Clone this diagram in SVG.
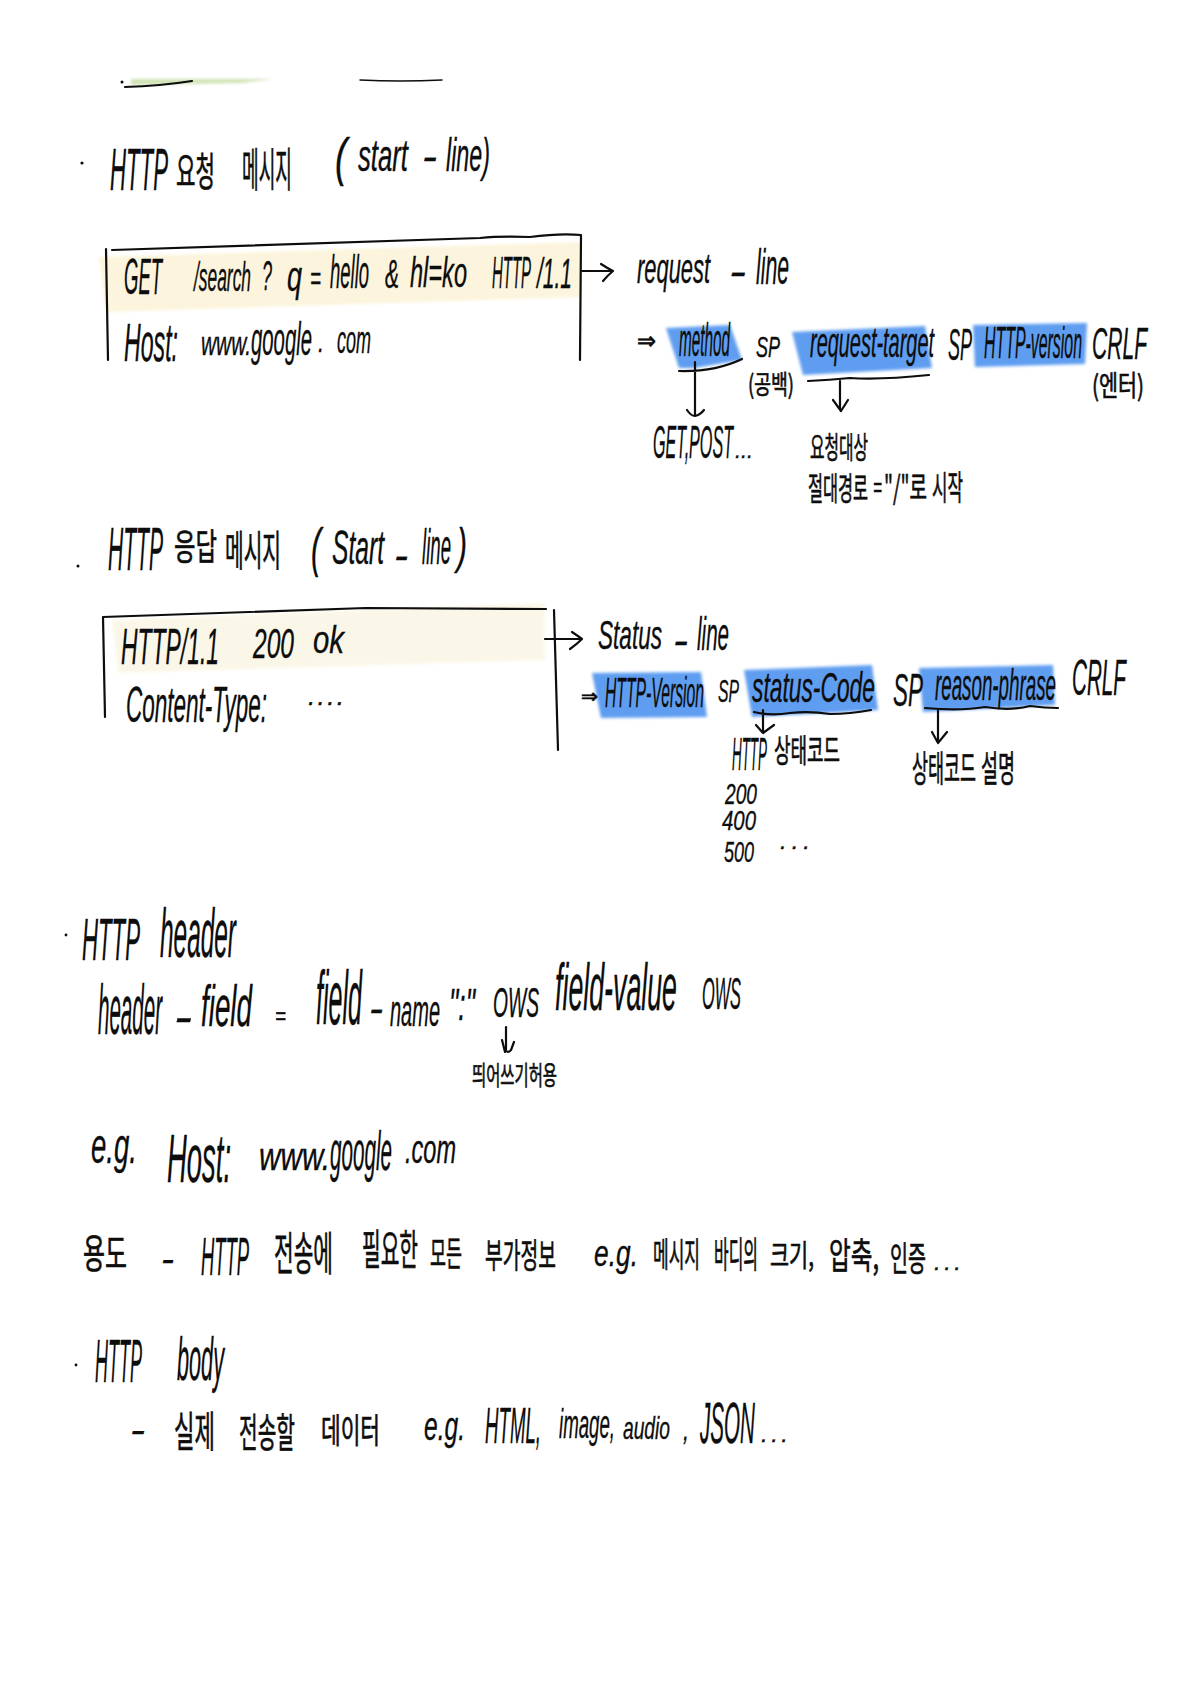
<svg xmlns="http://www.w3.org/2000/svg" width="1192" height="1684" viewBox="0 0 1192 1684">
<style>
text{font-family:"Liberation Sans","Noto Sans CJK KR",sans-serif;fill:#0d0d0d;font-style:italic;stroke:#0d0d0d;stroke-width:.35px}
.k{font-family:"Noto Sans CJK KR","Liberation Sans",sans-serif;font-style:normal;stroke-width:.7px}
.ink{fill:none;stroke:#0d0d0d;stroke-width:2.2;stroke-linecap:round;stroke-linejoin:round}
.blue{fill:#5f9df0;filter:url(#soft)}
.yel{fill:#fcf4dc;filter:url(#soft)}
.yel2{fill:#fbf7e8;filter:url(#soft)}
</style>
<defs><filter id="soft" x="-5%" y="-20%" width="110%" height="140%"><feGaussianBlur stdDeviation="1.5"/></filter></defs>
<rect width="1192" height="1684" fill="#fff"/>

<g id="top-remnant">
<path d="M131 79L274 79L240 83L131 85Z" fill="#cfe3b4" filter="url(#soft)"/>
<circle cx="122" cy="82" r="1.5" fill="#0d0d0d"/>
<path class="ink" d="M125 87Q160 86 192 81"/>
<path class="ink" d="M360 80Q400 82 442 80" style="stroke-width:1.5"/>
</g>

<g id="highlights">
<path class="yel" d="M99 257L580 242L580 297L106 312Z"/>
<path class="yel2" d="M112 620L545 603L545 660L118 673Z"/>
<path class="blue" d="M666 328L730 325L742 360L694 368L679 368Z"/>
<path class="blue" d="M792 332L925 326L932 368L803 375Z"/>
<path class="blue" d="M973 325L1087 323L1085 364L975 367Z"/>
<path class="blue" d="M592 673L701 672L707 717L601 718Z"/>
<path class="blue" d="M744 670L872 665L878 710L752 717Z"/>
<path class="blue" d="M919 668L1053 665L1055 705L923 712Z"/>
</g>

<g id="heading-request">
<circle cx="82" cy="163" r="1.6" fill="#0d0d0d"/>
<text x="110" y="190" font-size="60" textLength="58" lengthAdjust="spacingAndGlyphs">HTTP</text>
<text class="k" x="176" y="186" font-size="40" textLength="39" lengthAdjust="spacingAndGlyphs">요청</text>
<text class="k" x="242" y="186" font-size="46" textLength="50" lengthAdjust="spacingAndGlyphs">메시지</text>
<text x="335" y="175" font-size="52" textLength="12" lengthAdjust="spacingAndGlyphs">(</text>
<text x="358" y="171" font-size="44" textLength="50" lengthAdjust="spacingAndGlyphs">start</text>
<text x="422" y="170" font-size="40" textLength="15" lengthAdjust="spacingAndGlyphs">-</text>
<text x="446" y="171" font-size="46" textLength="44" lengthAdjust="spacingAndGlyphs">line)</text>
</g>

<g id="request-box">
<path class="ink" d="M106 249L108 360M112 250Q340 242 480 238Q500 236 530 237Q560 233 581 235L580 360"/>
<text x="124" y="294" font-size="50" textLength="38" lengthAdjust="spacingAndGlyphs">GET</text>
<text x="194" y="291" font-size="40" textLength="57" lengthAdjust="spacingAndGlyphs">/search</text>
<text x="262" y="290" font-size="42" textLength="10" lengthAdjust="spacingAndGlyphs">?</text>
<text x="287" y="291" font-size="42" textLength="15" lengthAdjust="spacingAndGlyphs">q</text>
<text x="310" y="290" font-size="34" textLength="11" lengthAdjust="spacingAndGlyphs">=</text>
<text x="330" y="288" font-size="46" textLength="39" lengthAdjust="spacingAndGlyphs">hello</text>
<text x="385" y="288" font-size="40" textLength="14" lengthAdjust="spacingAndGlyphs">&amp;</text>
<text x="410" y="287" font-size="42" textLength="57" lengthAdjust="spacingAndGlyphs">hl=ko</text>
<text x="492" y="288" font-size="44" textLength="39" lengthAdjust="spacingAndGlyphs">HTTP</text>
<text x="537" y="288" font-size="42" textLength="35" lengthAdjust="spacingAndGlyphs">/1.1</text>
<text x="124" y="361" font-size="54" textLength="54" lengthAdjust="spacingAndGlyphs">Host:</text>
<text x="201" y="355" font-size="34" textLength="50" lengthAdjust="spacingAndGlyphs">www.</text>
<text x="251" y="355" font-size="46" textLength="61" lengthAdjust="spacingAndGlyphs">google</text>
<text x="318" y="352" font-size="30" textLength="6" lengthAdjust="spacingAndGlyphs">.</text>
<text x="337" y="353" font-size="38" textLength="34" lengthAdjust="spacingAndGlyphs">com</text>
</g>

<g id="request-line">
<text x="637" y="283" font-size="42" textLength="73" lengthAdjust="spacingAndGlyphs">request</text>
<text x="729" y="285" font-size="40" textLength="17" lengthAdjust="spacingAndGlyphs">-</text>
<text x="756" y="284" font-size="50" textLength="33" lengthAdjust="spacingAndGlyphs">line</text>
<text class="k" x="637" y="349" font-size="24" textLength="19" lengthAdjust="spacingAndGlyphs" style="font-family:'DejaVu Sans',sans-serif">⇒</text>
<text x="679" y="356" font-size="46" textLength="51" lengthAdjust="spacingAndGlyphs">method</text>
<text x="756" y="357" font-size="30" textLength="24" lengthAdjust="spacingAndGlyphs">SP</text>
<text class="k" x="748" y="394" font-size="26" textLength="46" lengthAdjust="spacingAndGlyphs">(공백)</text>
<text x="810" y="357" font-size="42" textLength="124" lengthAdjust="spacingAndGlyphs">request-target</text>
<text x="948" y="360" font-size="44" textLength="24" lengthAdjust="spacingAndGlyphs">SP</text>
<text x="984" y="358" font-size="44" textLength="98" lengthAdjust="spacingAndGlyphs">HTTP-version</text>
<text x="1092" y="359" font-size="44" textLength="55" lengthAdjust="spacingAndGlyphs">CRLF</text>
<text class="k" x="1092" y="396" font-size="28" textLength="52" lengthAdjust="spacingAndGlyphs">(엔터)</text>
<text x="653" y="458" font-size="46" textLength="80" lengthAdjust="spacingAndGlyphs">GET,POST</text>
<text x="735" y="458" font-size="24" textLength="18" lengthAdjust="spacingAndGlyphs">...</text>
<text class="k" x="810" y="458" font-size="30" textLength="58" lengthAdjust="spacingAndGlyphs">요청대상</text>
<text class="k" x="808" y="500" font-size="32" textLength="60" lengthAdjust="spacingAndGlyphs">절대경로</text>
<text x="873" y="497" font-size="28" textLength="9" lengthAdjust="spacingAndGlyphs">=</text>
<text class="k" x="884" y="499" font-size="32" textLength="43" lengthAdjust="spacingAndGlyphs">"/"로</text>
<text class="k" x="932" y="500" font-size="34" textLength="31" lengthAdjust="spacingAndGlyphs">시작</text>
</g>

<g id="heading-response">
<circle cx="78" cy="566" r="1.5" fill="#0d0d0d"/>
<text x="108" y="570" font-size="62" textLength="55" lengthAdjust="spacingAndGlyphs">HTTP</text>
<text class="k" x="174" y="560" font-size="36" textLength="43" lengthAdjust="spacingAndGlyphs">응답</text>
<text class="k" x="225" y="566" font-size="42" textLength="56" lengthAdjust="spacingAndGlyphs">메시지</text>
<text x="311" y="566" font-size="54" textLength="10" lengthAdjust="spacingAndGlyphs">(</text>
<text x="332" y="564" font-size="48" textLength="52" lengthAdjust="spacingAndGlyphs">Start</text>
<text x="394" y="569" font-size="40" textLength="14" lengthAdjust="spacingAndGlyphs">-</text>
<text x="422" y="564" font-size="50" textLength="29" lengthAdjust="spacingAndGlyphs">line</text>
<text x="457" y="563" font-size="50" textLength="10" lengthAdjust="spacingAndGlyphs">)</text>
</g>

<g id="response-box">
<path class="ink" d="M105 717L103 617Q240 612 366 608L546 609M554 610L558 750"/>
<text x="121" y="664" font-size="50" textLength="98" lengthAdjust="spacingAndGlyphs">HTTP/1.1</text>
<text x="253" y="658" font-size="42" textLength="41" lengthAdjust="spacingAndGlyphs">200</text>
<text x="313" y="653" font-size="38" textLength="31" lengthAdjust="spacingAndGlyphs">ok</text>
<text x="126" y="722" font-size="50" textLength="141" lengthAdjust="spacingAndGlyphs">Content-Type:</text>
<text x="308" y="705" font-size="26" textLength="36" lengthAdjust="spacing">....</text>
</g>

<g id="status-line">
<text x="598" y="649" font-size="40" textLength="64" lengthAdjust="spacingAndGlyphs">Status</text>
<text x="673" y="654" font-size="40" textLength="15" lengthAdjust="spacingAndGlyphs">-</text>
<text x="697" y="650" font-size="46" textLength="32" lengthAdjust="spacingAndGlyphs">line</text>
<text class="k" x="581" y="703" font-size="20" textLength="17" lengthAdjust="spacingAndGlyphs" style="font-family:'DejaVu Sans',sans-serif">⇒</text>
<text x="605" y="707" font-size="42" textLength="99" lengthAdjust="spacingAndGlyphs">HTTP-Version</text>
<text x="718" y="702" font-size="32" textLength="21" lengthAdjust="spacingAndGlyphs">SP</text>
<text x="752" y="702" font-size="42" textLength="123" lengthAdjust="spacingAndGlyphs">status-Code</text>
<text x="893" y="706" font-size="46" textLength="30" lengthAdjust="spacingAndGlyphs">SP</text>
<text x="935" y="700" font-size="44" textLength="121" lengthAdjust="spacingAndGlyphs">reason-phrase</text>
<text x="1072" y="695" font-size="50" textLength="54" lengthAdjust="spacingAndGlyphs">CRLF</text>
<text x="732" y="770" font-size="46" textLength="35" lengthAdjust="spacingAndGlyphs">HTTP</text>
<text class="k" x="774" y="762" font-size="32" textLength="66" lengthAdjust="spacingAndGlyphs">상태코드</text>
<text x="725" y="804" font-size="30" textLength="32" lengthAdjust="spacingAndGlyphs">200</text>
<text x="722" y="830" font-size="28" textLength="34" lengthAdjust="spacingAndGlyphs">400</text>
<text x="724" y="862" font-size="30" textLength="30" lengthAdjust="spacingAndGlyphs">500</text>
<text x="780" y="849" font-size="24" textLength="30" lengthAdjust="spacing">...</text>
<text class="k" x="912" y="782" font-size="36" textLength="64" lengthAdjust="spacingAndGlyphs">상태코드</text>
<text class="k" x="981" y="782" font-size="36" textLength="34" lengthAdjust="spacingAndGlyphs">설명</text>
</g>

<g id="connectors">
<g class="ink">
<path d="M582 271L612 271M601 264Q607 268 613 271Q608 275 603 281"/>
<path d="M679 371Q715 372 742 359M695 362L695 415M687 410Q691 416 695 416Q700 415 704 410"/>
<path d="M808 381Q830 380 850 378Q880 380 929 375M840 381L840 410M833 400L841 411L848 400"/>
<path d="M545 639L581 639M572 632Q578 636 582 639Q577 644 570 649"/>
<path d="M754 712Q770 716 790 713Q810 711 830 714Q850 714 871 710M763 710L763 733M756 725L763 733L774 725"/>
<path d="M925 708Q960 711 985 707Q1010 711 1030 706Q1045 708 1058 708M938 710L938 743M932 732L938 743L947 732"/>
<path d="M506 1027L506 1050Q507 1054 511 1050L514 1042M502 1040L505 1052"/>
</g>
</g>

<g id="header-section">
<circle cx="66" cy="935" r="1.4" fill="#0d0d0d"/>
<text x="82" y="960" font-size="60" textLength="58" lengthAdjust="spacingAndGlyphs">HTTP</text>
<text x="160" y="957" font-size="68" textLength="76" lengthAdjust="spacingAndGlyphs">header</text>
<text x="98" y="1034" font-size="70" textLength="64" lengthAdjust="spacingAndGlyphs">header</text>
<text x="174" y="1032" font-size="44" textLength="18" lengthAdjust="spacingAndGlyphs">-</text>
<text x="201" y="1026" font-size="58" textLength="51" lengthAdjust="spacingAndGlyphs">field</text>
<text x="275" y="1024" font-size="24" textLength="11" lengthAdjust="spacingAndGlyphs">=</text>
<text x="316" y="1024" font-size="76" textLength="46" lengthAdjust="spacingAndGlyphs">field</text>
<text x="369" y="1022" font-size="40" textLength="14" lengthAdjust="spacingAndGlyphs">-</text>
<text x="390" y="1026" font-size="44" textLength="50" lengthAdjust="spacingAndGlyphs">name</text>
<text x="449" y="1020" font-size="44" textLength="26" lengthAdjust="spacingAndGlyphs">":"</text>
<text x="493" y="1017" font-size="42" textLength="46" lengthAdjust="spacingAndGlyphs">OWS</text>
<text x="555" y="1010" font-size="66" textLength="122" lengthAdjust="spacingAndGlyphs">field-value</text>
<text x="702" y="1009" font-size="44" textLength="39" lengthAdjust="spacingAndGlyphs">OWS</text>
<text class="k" x="472" y="1085" font-size="26" textLength="85" lengthAdjust="spacingAndGlyphs">띄어쓰기허용</text>
<text x="91" y="1163" font-size="50" textLength="46" lengthAdjust="spacingAndGlyphs">e.g.</text>
<text x="167" y="1182" font-size="68" textLength="64" lengthAdjust="spacingAndGlyphs">Host:</text>
<text x="259" y="1170" font-size="38" textLength="71" lengthAdjust="spacingAndGlyphs">www.</text>
<text x="330" y="1170" font-size="56" textLength="62" lengthAdjust="spacingAndGlyphs">google</text>
<text x="405" y="1163" font-size="40" textLength="51" lengthAdjust="spacingAndGlyphs">.com</text>
<text class="k" x="83" y="1268" font-size="40" textLength="44" lengthAdjust="spacingAndGlyphs">용도</text>
<text x="161" y="1271" font-size="36" textLength="13" lengthAdjust="spacingAndGlyphs">-</text>
<text x="201" y="1275" font-size="54" textLength="48" lengthAdjust="spacingAndGlyphs">HTTP</text>
<text class="k" x="274" y="1270" font-size="46" textLength="59" lengthAdjust="spacingAndGlyphs">전송에</text>
<text class="k" x="362" y="1265" font-size="42" textLength="56" lengthAdjust="spacingAndGlyphs">필요한</text>
<text class="k" x="430" y="1266" font-size="34" textLength="32" lengthAdjust="spacingAndGlyphs">모든</text>
<text class="k" x="485" y="1268" font-size="34" textLength="71" lengthAdjust="spacingAndGlyphs">부가정보</text>
<text x="594" y="1266" font-size="36" textLength="44" lengthAdjust="spacingAndGlyphs">e.g.</text>
<text class="k" x="653" y="1267" font-size="34" textLength="47" lengthAdjust="spacingAndGlyphs">메시지</text>
<text class="k" x="714" y="1268" font-size="36" textLength="44" lengthAdjust="spacingAndGlyphs">바디의</text>
<text class="k" x="770" y="1266" font-size="30" textLength="44" lengthAdjust="spacingAndGlyphs">크기,</text>
<text class="k" x="829" y="1269" font-size="36" textLength="50" lengthAdjust="spacingAndGlyphs">압축,</text>
<text class="k" x="890" y="1271" font-size="34" textLength="36" lengthAdjust="spacingAndGlyphs">인증</text>
<text x="934" y="1270" font-size="24" textLength="27" lengthAdjust="spacing">...</text>
</g>

<g id="body-section">
<circle cx="76" cy="1365" r="1.4" fill="#0d0d0d"/>
<text x="95" y="1382" font-size="62" textLength="47" lengthAdjust="spacingAndGlyphs">HTTP</text>
<text x="177" y="1380" font-size="62" textLength="47" lengthAdjust="spacingAndGlyphs">body</text>
<text x="130" y="1442" font-size="36" textLength="15" lengthAdjust="spacingAndGlyphs">-</text>
<text class="k" x="174" y="1447" font-size="42" textLength="41" lengthAdjust="spacingAndGlyphs">실제</text>
<text class="k" x="239" y="1447" font-size="40" textLength="56" lengthAdjust="spacingAndGlyphs">전송할</text>
<text class="k" x="321" y="1443" font-size="34" textLength="59" lengthAdjust="spacingAndGlyphs">데이터</text>
<text x="424" y="1440" font-size="40" textLength="41" lengthAdjust="spacingAndGlyphs">e.g.</text>
<text x="485" y="1443" font-size="50" textLength="56" lengthAdjust="spacingAndGlyphs">HTML,</text>
<text x="559" y="1438" font-size="40" textLength="56" lengthAdjust="spacingAndGlyphs">image,</text>
<text x="623" y="1439" font-size="32" textLength="47" lengthAdjust="spacingAndGlyphs">audio</text>
<text x="683" y="1440" font-size="32" textLength="6" lengthAdjust="spacingAndGlyphs">,</text>
<text x="700" y="1443" font-size="58" textLength="55" lengthAdjust="spacingAndGlyphs">JSON</text>
<text x="761" y="1442" font-size="24" textLength="27" lengthAdjust="spacing">...</text>
</g>
</svg>
